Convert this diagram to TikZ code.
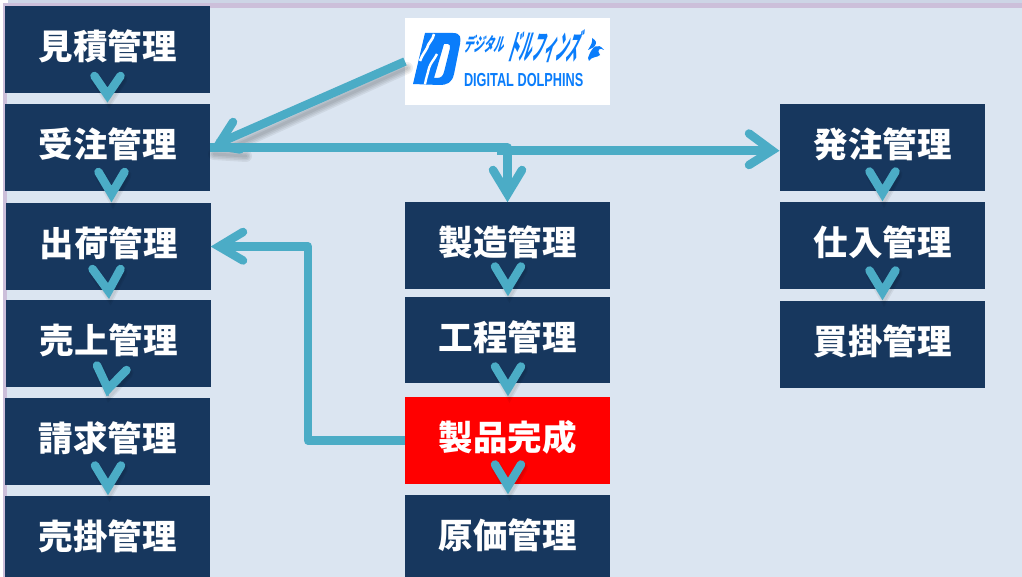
\documentclass[tikz,border=0pt]{standalone}
\usepackage{fontspec}
\usetikzlibrary{calc}
\newfontfamily\cjk{Noto Sans CJK JP}
\setmainfont{Liberation Sans}
\definecolor{navybox}{HTML}{17375E}
\definecolor{tealar}{HTML}{4BACC6}
\definecolor{paneblue}{HTML}{DBE5F1}
\definecolor{barlilac}{HTML}{CCBFDA}
\definecolor{stripblue}{HTML}{CDD5E6}
\definecolor{logoblue}{HTML}{0A7DFB}
\tikzset{
  x=1pt,y=-1pt,
  boxn/.style={fill=navybox,text=white,minimum width=205pt,minimum height=87pt,inner sep=0pt,outer sep=0pt,font=\cjk\bfseries\fontsize{34.5pt}{36pt}\selectfont},
  boxr/.style={boxn,fill=red},
  logobox/.style={fill=white,minimum width=205pt,minimum height=87pt,inner sep=0pt,outer sep=0pt},
  chevl/.style={draw=tealar,line width=8.5pt,line cap=round,line join=miter,miter limit=10},
  shaft/.style={draw=tealar,line width=8.5pt,line join=round},
  shaftthin/.style={draw=tealar,line width=1pt},
  softsh/.style={draw=black,opacity=.06,line cap=round,line join=round},
  logotxt/.style={text=logoblue,inner sep=0pt,outer sep=0pt},
}
\newcommand{\lbl}[1]{\raisebox{9.5pt}{#1}}
% chevron sitting on connector a -> b; #3 tip shift, #4..#7 arm ends relative to the tip
\newcommand{\chevgen}[7]{%
  \draw[shaftthin] ($(#1.south)+(#3,0)$) -- ($(#2.north)+(#3,-2)$);
  \draw[softsh,line width=8pt,line join=miter] ($(#2.north)+(#3+#4+1.5,#5+3)$) -- ($(#2.north)+(#3+1.5,-5)$) -- ($(#2.north)+(#3+#6+1.5,#7+3)$);
  \draw[softsh,line width=11pt,line join=miter] ($(#2.north)+(#3+#4+1.5,#5+3)$) -- ($(#2.north)+(#3+1.5,-5)$) -- ($(#2.north)+(#3+#6+1.5,#7+3)$);
  \draw[chevl] ($(#2.north)+(#3+#4,#5)$) -- ($(#2.north)+(#3,-9)$) -- ($(#2.north)+(#3+#6,#7)$);
}
\newcommand{\chev}[3]{\chevgen{#1}{#2}{#3}{-13}{-30.5}{13}{-30.5}}
\begin{document}
\begin{tikzpicture}
\useasboundingbox (0,0) rectangle (1022,577);
\clip (0,0) rectangle (1022,577);
\fill[white] (0,0) rectangle (1022,577);
\fill[stripblue] (8,0) rectangle (1022,3);
\fill[paneblue] (7,8) rectangle (1022,577);
\fill[barlilac] (3,3) rectangle (1022,8);
\fill[barlilac] (3,3) rectangle (7,577);

\node[boxn] (mitsu) at (107.5,49.5) {\lbl{見積管理}};
\node[boxn] (juchu) at (107.5,147.5) {\lbl{受注管理}};
\node[boxn] (shukka) at (108.5,246.5) {\lbl{出荷管理}};
\node[boxn] (uriage) at (108.5,343.5) {\lbl{売上管理}};
\node[boxn] (seikyu) at (107.5,441.5) {\lbl{請求管理}};
\node[boxn] (urikake) at (107.5,539.5) {\lbl{売掛管理}};
\node[boxn] (seizo) at (507.5,245.5) {\lbl{製造管理}};
\node[boxn,minimum height=86pt] (kotei) at (507.5,340) {\lbl{工程管理}};
\node[boxr] (kansei) at (507.5,440.5) {\lbl{製品完成}};
\node[boxn] (genka) at (507.5,538.5) {\lbl{原価管理}};
\node[boxn] (hatchu) at (882.5,147.5) {\lbl{発注管理}};
\node[boxn] (shiire) at (882.5,245.5) {\lbl{仕入管理}};
\node[boxn] (kaikake) at (882.5,344.5) {\lbl{買掛管理}};
\node[logobox] (logo) at (507.5,61.5) {};

% logo artwork
\fill[logoblue,even odd rule] (425,33) -- (453,33) .. controls (461,33) and (461,38) .. (460,44) -- (454,74) .. controls (452,83) and (447,85) .. (439,85) -- (413,84) -- cycle
  (444,44) -- (448,44) .. controls (450,44) and (450,46) .. (450,48) -- (444,72) .. controls (443,76) and (441,78) .. (437,78) -- (434,78) -- cycle;
\draw[white,line width=2.6pt] (434,34) .. controls (433,40) and (428,43) .. (427,48) .. controls (425,52) and (422,55) .. (420,61);
\draw[white,line width=2.4pt] (437,54) .. controls (434,60) and (431,62) .. (429,68) .. controls (428,73) and (426,78) .. (425,84);
\begin{scope}[shift={(466,44)},xslant=.3,transform shape]
\node[logotxt,font=\cjk\bfseries\fontsize{13pt}{13pt}\selectfont,anchor=west] (logoa) at (0,0) {\scalebox{.76}[1.45]{デジタル}};
\end{scope}
\begin{scope}[shift={(511,46)},xslant=.3,transform shape]
\node[logotxt,font=\cjk\bfseries\fontsize{18pt}{18pt}\selectfont,anchor=west] (logob) at (0,0) {\scalebox{.66}[1.9]{ドルフィンズ}};
\end{scope}
\node[logotxt,font=\bfseries\fontsize{13pt}{13pt}\selectfont,anchor=west] (logoc) at (464,80) {\scalebox{.98}[1.45]{DIGITAL DOLPHINS}};
\fill[logoblue] (588,58) .. controls (592,46) and (598,42) .. (604,50) .. controls (600,47) and (596,50) .. (600,55) .. controls (597,58) and (592,56) .. (589,61) -- cycle;
\fill[logoblue] (588,50) .. controls (591,45) and (593,42) .. (592,38) .. controls (597,41) and (597,43) .. (594,47) -- cycle;

% soft shadows
\foreach \w in {3,6,9,12}{
  \draw[softsh,line width=\w pt] (407,68) -- (232,147);
  \draw[softsh,line width=\w pt] (214,154) -- (246,156);
}

% connectors
\draw[shaft] (logo.west) -- ($(juchu.east)+(8,-4)$);
\draw[shaft] (juchu.east) -- ($(seizo.north)+(0,-54.5)$) -- ($(seizo.north)+(0,-8)$);
\draw[shaft] ($(seizo.north)+(-11,-51.5)$) -- ($(hatchu.west)+(-8,3)$);
\draw[chevl] ($(juchu.east)+(23,-25.5)$) -- ($(juchu.east)+(8,-2)$) -- ($(juchu.east)+(30,2)$);
\draw[chevl] ($(seizo.north)+(-14.5,-32)$) -- ($(seizo.north)+(0,-8)$) -- ($(seizo.north)+(14.5,-32)$);
\draw[chevl] ($(hatchu.west)+(-31,-14)$) -- ($(hatchu.west)+(-8,3)$) -- ($(hatchu.west)+(-31,17.5)$);
\draw[shaft] (kansei.west) -- ($(kansei.west)+(-97,0)$) |- ($(shukka.east)+(8,0)$);
\draw[chevl] ($(shukka.east)+(32,-14.5)$) -- ($(shukka.east)+(8,0)$) -- ($(shukka.east)+(32,14)$);

% chevrons between stacked boxes
\chevgen{mitsu}{juchu}{0}{-13}{-28}{13}{-28}
\chevgen{juchu}{shukka}{3}{-13}{-31}{13}{-31}
\chevgen{shukka}{uriage}{0}{-16}{-31}{12}{-31}
\chevgen{uriage}{seikyu}{0.5}{-11}{-32.5}{18.5}{-28}
\chev{seikyu}{urikake}{0.5}
\chev{seizo}{kotei}{0.5}
\chev{kotei}{kansei}{0.5}
\chev{kansei}{genka}{0.5}
\chev{hatchu}{shiire}{0}
\chev{shiire}{kaikake}{0}
\end{tikzpicture}
\end{document}
